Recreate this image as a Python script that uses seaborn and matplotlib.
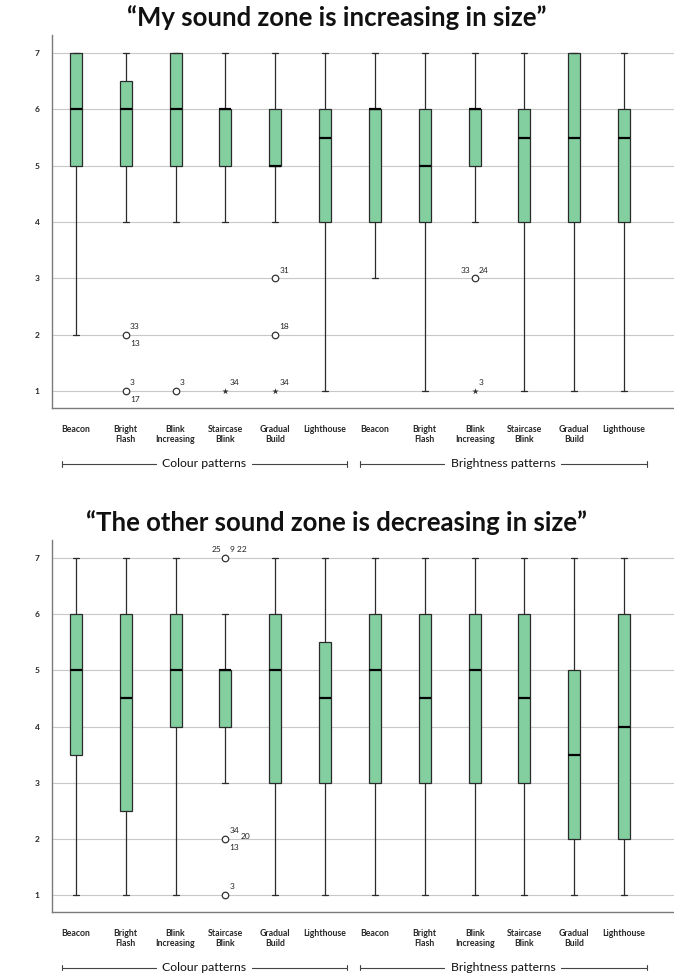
import matplotlib
matplotlib.use("Agg")
import matplotlib.pyplot as plt
import matplotlib.transforms as mtransforms
import seaborn as sns

# Kategorier (samma sex mönster för färg och ljusstyrka)
patterns = ["Beacon", "Bright\nFlash", "Blink\nIncreasing", "Staircase\nBlink", "Gradual\nBuild", "Lighthouse"]
categories = patterns + patterns
groups = ["Colour patterns", "Brightness patterns"]

# Övre diagram: "My sound zone is increasing in size"
inc_q1 = [5, 5, 5, 5, 5, 4, 4, 4, 5, 4, 4, 4]
inc_med = [6, 6, 6, 6, 5, 5.5, 6, 5, 6, 5.5, 5.5, 5.5]
inc_q3 = [7, 6.5, 7, 6, 6, 6, 6, 6, 6, 6, 7, 6]
inc_lo = [2, 4, 4, 4, 4, 1, 3, 1, 4, 1, 1, 1]
inc_hi = [7, 7, 7, 7, 7, 7, 7, 7, 7, 7, 7, 7]
inc_out_pos = [1, 1, 2, 3, 4, 4, 4, 8, 8]
inc_out_val = [2, 1, 1, 1, 3, 2, 1, 3, 1]
inc_out_kind = ["o", "o", "o", "*", "o", "o", "*", "o", "*"]
inc_out_ids = [[("33", "ur"), ("13", "lr")], [("3", "ur"), ("17", "lr")], [("3", "ur")],
               [("34", "ur")], [("31", "ur")], [("18", "ur")], [("34", "ur")],
               [("33", "ul"), ("24", "ur")], [("3", "ur")]]

# Nedre diagram: "The other sound zone is decreasing in size"
dec_q1 = [3.5, 2.5, 4, 4, 3, 3, 3, 3, 3, 3, 2, 2]
dec_med = [5, 4.5, 5, 5, 5, 4.5, 5, 4.5, 5, 4.5, 3.5, 4]
dec_q3 = [6, 6, 6, 5, 6, 5.5, 6, 6, 6, 6, 5, 6]
dec_lo = [1, 1, 1, 3, 1, 1, 1, 1, 1, 1, 1, 1]
dec_hi = [7, 7, 7, 6, 7, 7, 7, 7, 7, 7, 7, 7]
dec_out_pos = [3, 3, 3]
dec_out_val = [7, 2, 1]
dec_out_kind = ["o", "o", "o"]
dec_out_ids = [[("25", "ul"), ("9 22", "ur")], [("34", "ur"), ("20", "r"), ("13", "lr")], [("3", "ur")]]

box_color = "#84CFA0"
edge_color = "#2b2b2b"

# Offsets för outlier-etiketter (punkter)
label_offsets = {
    "ur": (3, 6, "left"),
    "lr": (3, -6, "left"),
    "ul": (-3, 6, "right"),
    "r": (11, 2, "left"),
}

sns.set_theme(style="white")
plt.rcParams["font.family"] = ["Lato", "DejaVu Sans"]

fig = plt.figure(figsize=(6.74, 9.77), dpi=100)
ax_top = fig.add_axes([0.077, 0.5824, 0.923, 0.3818])
ax_bot = fig.add_axes([0.077, 0.0665, 0.923, 0.3808])


def draw_panel(ax, q1, med, q3, lo, hi, out_pos, out_val, out_kind, out_ids):
    stats = []
    for i in range(len(categories)):
        stats.append({"q1": q1[i], "med": med[i], "q3": q3[i],
                      "whislo": lo[i], "whishi": hi[i], "fliers": []})
    positions = list(range(len(categories)))
    ax.bxp(stats, positions=positions, widths=0.24, capwidths=0.12,
           showfliers=False, patch_artist=True,
           boxprops=dict(facecolor=box_color, edgecolor=edge_color, linewidth=0.9),
           medianprops=dict(color="black", linewidth=1.6),
           whiskerprops=dict(color=edge_color, linewidth=0.9),
           capprops=dict(color=edge_color, linewidth=0.9),
           zorder=3)

    for p, v, k, ids in zip(out_pos, out_val, out_kind, out_ids):
        if k == "o":
            ax.scatter([p], [v], s=22, facecolors="white", edgecolors="#333333",
                       linewidths=0.9, zorder=4, clip_on=False)
        else:
            ax.scatter([p], [v], s=22, marker="*", color="#333333",
                       linewidths=0, zorder=4, clip_on=False)
        for txt, where in ids:
            dx, dy, ha = label_offsets[where]
            ax.annotate(txt, (p, v), xytext=(dx, dy), textcoords="offset points",
                        ha=ha, va="center", fontsize=6, color="#222222", zorder=5)

    ax.set_xlim(-0.48, 12.0)
    ax.set_ylim(0.70, 7.32)
    ax.set_yticks([1, 2, 3, 4, 5, 6, 7])
    ax.set_yticklabels(["1", "2", "3", "4", "5", "6", "7"], fontsize=6, fontweight="bold")
    ax.set_xticks(positions)
    ax.set_xticklabels(categories, fontsize=6.3, fontweight="bold")
    ax.tick_params(axis="both", length=0)
    ax.tick_params(axis="x", pad=12)
    ax.tick_params(axis="y", pad=9)
    ax.grid(axis="y", color="#c8c8c8", linewidth=0.8)
    ax.set_axisbelow(True)
    sns.despine(ax=ax, top=True, right=True)
    for s in ["left", "bottom"]:
        ax.spines[s].set_color("#7a7a7a")
        ax.spines[s].set_linewidth(1.0)

    # Grupplinjer under axeln
    trans = mtransforms.blended_transform_factory(ax.transData, ax.transAxes)
    spans = [(-0.28, 5.44), (5.70, 11.45)]
    for (x0, x1), name in zip(spans, groups):
        ax.plot([x0, x1], [-0.15, -0.15], transform=trans, color="#444444",
                linewidth=0.8, clip_on=False)
        ax.plot([x0, x0], [-0.157, -0.143], transform=trans, color="#444444",
                linewidth=0.8, clip_on=False)
        ax.plot([x1, x1], [-0.157, -0.143], transform=trans, color="#444444",
                linewidth=0.8, clip_on=False)
        ax.text((x0 + x1) / 2, -0.15, name, transform=trans, ha="center", va="center",
                fontsize=8.8, color="#111111",
                bbox=dict(facecolor="white", edgecolor="none", pad=4))


draw_panel(ax_top, inc_q1, inc_med, inc_q3, inc_lo, inc_hi,
           inc_out_pos, inc_out_val, inc_out_kind, inc_out_ids)
draw_panel(ax_bot, dec_q1, dec_med, dec_q3, dec_lo, dec_hi,
           dec_out_pos, dec_out_val, dec_out_kind, dec_out_ids)

fig.text(0.5, 1 - 18 / 977, "\u201cMy sound zone is increasing in size\u201d",
         ha="center", va="center", fontsize=18.5, fontweight="bold", color="#111111")
fig.text(0.5, 1 - 523 / 977, "\u201cThe other sound zone is decreasing in size\u201d",
         ha="center", va="center", fontsize=18.5, fontweight="bold", color="#111111")

fig.savefig("out.png", dpi=100)
